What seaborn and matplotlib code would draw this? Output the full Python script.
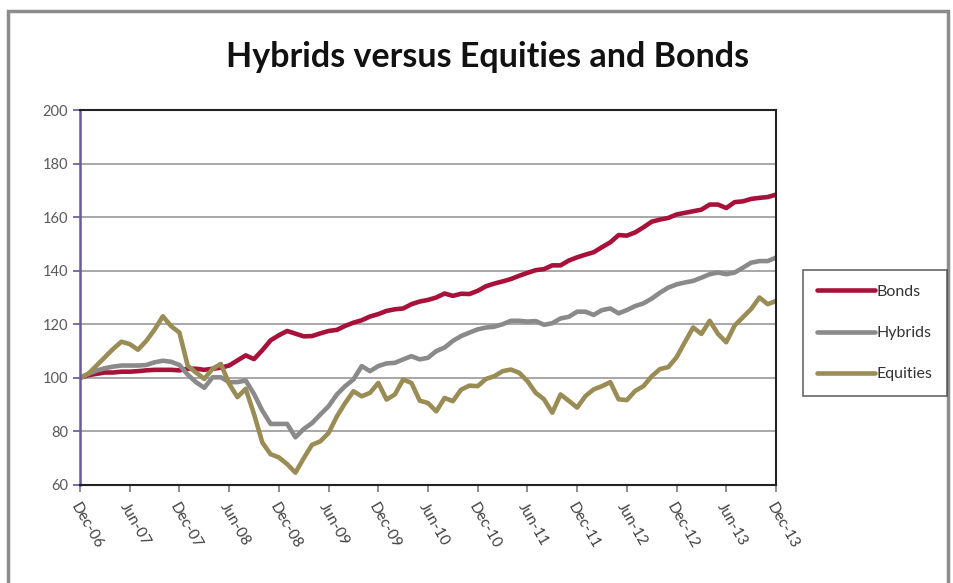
import matplotlib
matplotlib.use("Agg")
import matplotlib.pyplot as plt
import matplotlib.patches as mpatches
import seaborn as sns
import pandas as pd
import numpy as np

months = pd.date_range("2006-12-01", "2013-12-01", freq="MS")

bonds = [100, 101, 101.5, 102, 102, 102.3, 102.3, 102.5, 102.8, 103, 103, 103, 102.8,
         103.4, 103.4, 103, 103.4, 103.8, 104.6, 106.5, 108.4, 107, 110.3, 114, 115.9,
         117.5, 116.5, 115.5, 115.6, 116.6, 117.5, 117.9, 119.4, 120.6, 121.5, 122.9, 123.8,
         125, 125.6, 125.9, 127.5, 128.5, 129.1, 130, 131.5, 130.6, 131.4, 131.3, 132.5,
         134.2, 135.2, 136, 136.9, 138.1, 139.2, 140.2, 140.6, 142, 142, 143.8, 145,
         146, 146.9, 148.8, 150.6, 153.3, 153.1, 154.3, 156.2, 158.3, 159.1, 159.7, 161,
         161.6, 162.2, 162.8, 164.7, 164.7, 163.4, 165.6, 165.9, 166.8, 167.2, 167.5, 168.4]

hybrids = [100, 101.5, 102.7, 103.6, 104.2, 104.6, 104.6, 104.6, 104.8, 105.8, 106.4, 106, 104.8,
           101.2, 98.4, 96.3, 100.2, 100.2, 98.4, 98.4, 99, 94, 87.8, 82.8, 82.8,
           82.8, 77.8, 80.9, 83.1, 86.3, 89.4, 93.8, 96.9, 99.4, 104.4, 102.5, 104.4,
           105.4, 105.6, 106.9, 108.1, 106.9, 107.5, 110, 111.3, 113.8, 115.6, 116.9, 118.1,
           118.8, 119.1, 120, 121.3, 121.3, 121, 121.2, 119.8, 120.4, 122.2, 122.8, 124.7,
           124.7, 123.5, 125.3, 125.9, 124.1, 125.3, 126.8, 127.8, 129.6, 131.8, 133.7, 134.9,
           135.6, 136.2, 137.4, 138.7, 139.3, 138.7, 139.3, 141.1, 143, 143.6, 143.6, 144.9]

equities = [100, 101.5, 104.6, 107.7, 110.8, 113.5, 112.6, 110.5, 113.8, 118, 123, 119.3, 116.9,
            104.5, 102, 99.6, 103.4, 105.2, 97.8, 92.8, 95.9, 86.5, 75.9, 71.5, 70.3,
            67.8, 64.6, 70, 75, 76.3, 79.4, 85.6, 90.6, 95, 93.1, 94.4, 98.1,
            91.9, 93.8, 99.4, 98.1, 91.5, 90.6, 87.5, 92.5, 91.3, 95.6, 97.1, 96.9,
            99.6, 100.6, 102.5, 103.1, 101.9, 98.8, 94.4, 92, 87, 93.8, 91.4, 88.9,
            93.2, 95.7, 96.9, 98.4, 92, 91.7, 95.1, 96.9, 100.6, 103.3, 104, 107.7,
            113.3, 118.8, 116.4, 121.3, 116.4, 113.3, 119.5, 122.6, 125.7, 130, 127.5, 128.7]

series_names = ["Bonds", "Hybrids", "Equities"]
series_colors = ["#A8113A", "#8A8A8A", "#9A8C55"]
tick_labels = ["Dec-06", "Jun-07", "Dec-07", "Jun-08", "Dec-08", "Jun-09", "Dec-09",
               "Jun-10", "Dec-10", "Jun-11", "Dec-11", "Jun-12", "Dec-12", "Jun-13", "Dec-13"]

n = len(months)
df = pd.DataFrame({
    "idx": list(range(n)) * 3,
    "value": bonds + hybrids + equities,
    "series": sum([[s] * n for s in series_names], []),
})

sns.set_theme(style="white")
plt.rcParams["font.family"] = ["Lato", "DejaVu Sans"]

fig = plt.figure(figsize=(9.54, 5.83), dpi=100)
ax = fig.add_axes([80 / 954, 1 - 485 / 583, (776 - 80) / 954, (485 - 110) / 583])

# outer chart frame
fig.patches.append(mpatches.Rectangle((8 / 954, -0.05), (948 - 8) / 954, 1.05 - 11 / 583,
                                      transform=fig.transFigure, fill=False,
                                      edgecolor="#8C8C8C", linewidth=2.5))

sns.lineplot(data=df, x="idx", y="value", hue="series", hue_order=series_names,
             palette=series_colors, linewidth=3.3, ax=ax, legend=False)

ax.set_xlim(0, n - 1)
ax.set_ylim(60, 200)
ax.set_yticks(np.arange(60, 201, 20))
ax.set_xticks(np.arange(0, n, 6))
ax.set_xticklabels(tick_labels, rotation=-60, ha="left", va="top",
                   rotation_mode="anchor", fontsize=11, color="#404040")
ax.tick_params(axis="y", labelsize=10.5, labelcolor="#595959", length=5,
               color="#6A5A9A", direction="out", left=True)
ax.tick_params(axis="x", length=5, color="#808080", direction="out", bottom=True, pad=6)
ax.set_xlabel("")
ax.set_ylabel("")
ax.grid(axis="y", color="#A0A0A0", linewidth=1.3)
ax.grid(axis="x", visible=False)
for s in ["top", "right", "bottom"]:
    ax.spines[s].set_color("#222222")
    ax.spines[s].set_linewidth(1.5)
ax.spines["left"].set_color("#6A5A9A")
ax.spines["left"].set_linewidth(1.8)

fig.text(488 / 954, 1 - 57 / 583, "Hybrids versus Equities and Bonds",
         ha="center", va="center", fontsize=24.5, fontweight="bold", color="#111111")

handles = [plt.Line2D([0], [0], color=c, linewidth=3.3) for c in series_colors]
leg = fig.legend(handles, series_names, loc="center left",
                 bbox_to_anchor=(803 / 954, 1 - 333 / 583), frameon=True,
                 fancybox=False, edgecolor="#404040", fontsize=11.5,
                 handlelength=3.6, handletextpad=0.1, labelspacing=1.7,
                 borderpad=0.9, borderaxespad=0)
leg.get_frame().set_linewidth(1.2)
for t in leg.get_texts():
    t.set_color("#333333")

fig.savefig("out.png", dpi=100)
